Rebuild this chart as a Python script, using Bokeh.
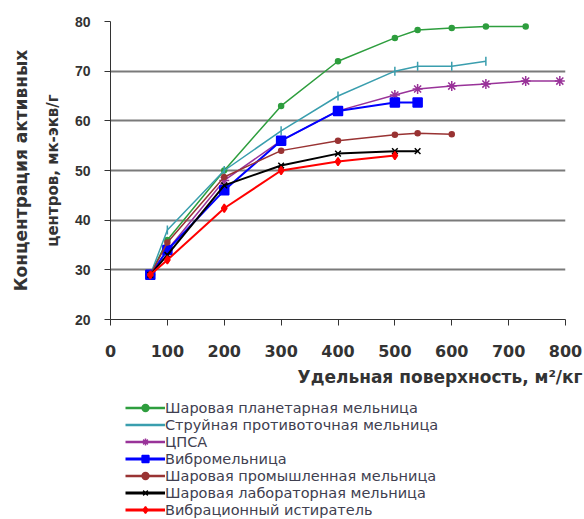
from bokeh.plotting import figure
from bokeh.layouts import column
from bokeh.models import Legend, LegendItem, Title, Range1d, FixedTicker
from bokeh.embed import file_html
from bokeh.resources import INLINE

# Data
names = ["Шаровая планетарная мельница", "Струйная противоточная мельница", "ЦПСА",
         "Вибромельница", "Шаровая промышленная мельница", "Шаровая лабораторная мельница",
         "Вибрационный истиратель"]
x_green = [70, 100, 200, 300, 400, 500, 540, 600, 660, 730]
y_green = [29, 36, 50, 63, 72, 76.7, 78.3, 78.7, 79, 79]
x_cyan = [70, 100, 200, 300, 400, 500, 540, 600, 660]
y_cyan = [29, 38, 50, 58, 65, 70, 71, 71, 72]
x_purple = [70, 100, 200, 300, 400, 500, 540, 600, 660, 730, 790]
y_purple = [29, 34, 48, 56, 62, 65.2, 66.4, 67, 67.4, 68, 68]
x_blue = [70, 100, 200, 300, 400, 500, 540]
y_blue = [29, 34, 46, 56, 62, 63.7, 63.7]
x_dred = [70, 100, 200, 300, 400, 500, 540, 600]
y_dred = [29, 35.5, 48.7, 54, 56, 57.2, 57.5, 57.3]
x_black = [70, 100, 200, 300, 400, 500, 540]
y_black = [29, 33, 47, 51, 53.4, 53.9, 53.9]
x_red = [70, 100, 200, 300, 400, 500]
y_red = [29, 32, 42.4, 50, 51.8, 53]
x_ticks = [0, 100, 200, 300, 400, 500, 600, 700, 800]
y_ticks = [20, 30, 40, 50, 60, 70, 80]

FONT = "Liberation Sans"
WFONT = "DejaVu Sans"
TXT = "#333333"

p = figure(width=584, height=397, output_backend="svg", toolbar_location=None,
           x_range=Range1d(0, 800), y_range=Range1d(20, 80),
           min_border_left=110, min_border_top=21, min_border_right=19, min_border_bottom=78)
p.outline_line_color = None
p.xgrid.visible = False
p.ygrid.grid_line_color = "#7a7a7a"
p.ygrid.grid_line_width = 2
p.xaxis.ticker = FixedTicker(ticks=x_ticks)
p.yaxis.ticker = FixedTicker(ticks=y_ticks)
for ax in (p.xaxis[0], p.yaxis[0]):
    ax.axis_line_color = "#333333"
    ax.major_tick_line_color = "#333333"
    ax.major_tick_in = 0
    ax.major_tick_out = 6
    ax.minor_tick_line_color = None
    ax.major_label_text_font_style = "bold"
    ax.major_label_text_color = TXT
p.xaxis.major_label_text_font = WFONT
p.xaxis.major_label_text_font_size = "16px"
p.xaxis.major_label_standoff = 19
p.yaxis.major_label_text_font = FONT
p.yaxis.major_label_text_font_size = "14px"
p.yaxis.major_label_standoff = 14

series = [
    (x_green, y_green, "#2e9e3e", "circle", 5, 1.5),
    (x_cyan, y_cyan, "#3a9eae", "dash", 9, 1.5),
    (x_purple, y_purple, "#993399", "asterisk", 10, 1.5),
    (x_blue, y_blue, "#0000ff", "square", 9, 2),
    (x_dred, y_dred, "#993333", "circle", 5, 1.5),
    (x_black, y_black, "#000000", "x", 8, 2),
    (x_red, y_red, "#ff0000", "diamond", 8, 2),
]
for xs, ys, c, m, s, w in series:
    p.line(xs, ys, line_color=c, line_width=w)
    angle = 1.5708 if m == "dash" else 0
    p.scatter(xs, ys, marker=m, size=s, line_color=c, fill_color=c, line_width=1.5, angle=angle)

p.add_layout(Title(text="центров, мк-экв/г", text_font=WFONT, text_font_style="bold",
                   text_font_size="15px", text_color=TXT, align="center", standoff=20), "left")
p.add_layout(Title(text="Концентрация активных", text_font=WFONT, text_font_style="bold",
                   text_font_size="17px", text_color=TXT, align="center", standoff=2), "left")
p.add_layout(Title(text="Удельная поверхность, м²/кг", text_font=WFONT, text_font_style="bold",
                   text_font_size="17px", text_color=TXT, align="right", offset=-17), "below")

# Legend panel
nan = float("nan")
lg = figure(width=584, height=122, output_backend="svg", toolbar_location=None,
            x_axis_type=None, y_axis_type=None, x_range=Range1d(0, 1), y_range=Range1d(0, 1),
            min_border_left=110, min_border_right=19, min_border_top=0, min_border_bottom=0)
lg.outline_line_color = None
lg.xgrid.visible = False
lg.ygrid.visible = False
items = []
for (xs, ys, c, m, s, w), nm in zip(series, names):
    r1 = lg.line([nan], [nan], line_color=c, line_width=w + 1)
    angle = 1.5708 if m == "dash" else 0
    r2 = lg.scatter([nan], [nan], marker=m, size=s, line_color=c, fill_color=c, line_width=1.5, angle=angle)
    items.append(LegendItem(label=nm, renderers=[r1, r2]))
legend = Legend(items=items, location=(15, 1), orientation="vertical",
                label_text_font=WFONT, label_text_font_size="14.5px", label_text_color="#404050",
                label_height=17, glyph_height=17, glyph_width=40, label_standoff=0,
                spacing=0, padding=0, margin=0, border_line_color=None,
                background_fill_alpha=0)
lg.add_layout(legend, "center")

open("out.html", "w").write(file_html(column(p, lg, spacing=0), INLINE))
